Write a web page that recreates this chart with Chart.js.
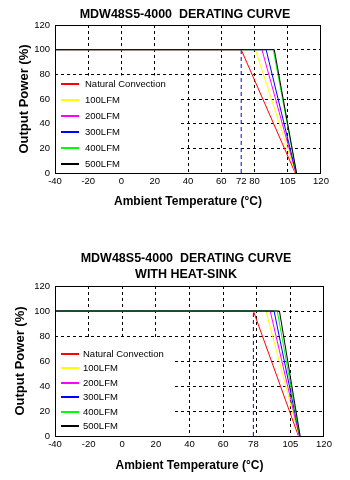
<!DOCTYPE html>
<html><head><meta charset="utf-8">
<script src="https://cdn.jsdelivr.net/npm/chart.js@4"></script>
<style>
html,body{margin:0;padding:0;background:#fff;width:350px;height:480px;overflow:hidden}
canvas{position:absolute;left:0}
</style></head>
<body>
<canvas id="c1" width="350" height="216" style="top:0"></canvas>
<canvas id="c2" width="350" height="240" style="top:240px"></canvas>
<script>
// ---- data ----
const seriesNames = ['Natural Convection', '100LFM', '200LFM', '300LFM', '400LFM', '500LFM'];
const ratedPower = 100;
const startTemp = -40;

// chart 1 (no heat-sink)
const topKnee = [72, 80.5, 84.5, 87, 91.3, 91.9];
const topZero = [104.5, 104.7, 104.9, 105, 105.2, 105.3];
const topLimit = 72;
const topTickValues = [-40, -20, 0, 20, 40, 60, 72, 80, 100, 120];
const topTickLabels = ['-40', '-20', '0', '20', '40', '60', '72', '80', '105', '120'];

// chart 2 (with heat-sink)
const botKnee = [78, 85.5, 88, 90.3, 92.2, 93.5];
const botZero = [104.8, 105.1, 105.3, 105.5, 105.6, 105.8];
const botLimit = 78;
const botTickValues = [-40, -20, 0, 20, 40, 60, 78, 80, 100, 120];
const botTickLabels = ['-40', '-20', '0', '20', '40', '60', '78', '', '105', '120'];

const yTickValues = [0, 20, 40, 60, 80, 100, 120];

// ---- styles ----
const seriesColors = ['#ff0000', '#ffff00', '#ff00ff', '#0000ff', '#00ff00', '#000000'];
const FONT = "'Liberation Sans', Arial, Helvetica, sans-serif";
Chart.defaults.color = '#000';
Chart.defaults.font.family = FONT;

const framePlugin = {
  id: 'frame',
  afterDraw(chart) {
    const {ctx, chartArea: a} = chart;
    ctx.save();
    ctx.strokeStyle = '#000';
    ctx.lineWidth = 1;
    ctx.setLineDash([]);
    ctx.strokeRect(Math.round(a.left) + 0.5, Math.round(a.top) + 0.5,
      Math.round(a.right - a.left) - 1 + 0, Math.round(a.bottom - a.top));
    ctx.restore();
  }
};

const boxLegendPlugin = {
  id: 'boxLegend',
  beforeDatasetsDraw(chart, args, opts) {
    const {ctx, chartArea: a, scales} = chart;
    const right = scales.x.getPixelForValue(opts.boxRightValue);
    const top = scales.y.getPixelForValue(opts.boxTopValue);
    ctx.save();
    ctx.fillStyle = '#fff';
    ctx.fillRect(a.left + 1, top, right - a.left - 1, a.bottom - top - 0.5);
    const items = chart.data.datasets.filter(d => d.inLegend);
    ctx.font = opts.font;
    ctx.textBaseline = 'middle';
    ctx.textAlign = 'left';
    const n = items.length;
    items.forEach((d, i) => {
      const yy = Math.round(a.bottom - opts.bottomGap - (n - 1 - i) * opts.rowGap);
      ctx.strokeStyle = d.borderColor;
      ctx.lineWidth = 2;
      ctx.setLineDash([]);
      ctx.beginPath();
      ctx.moveTo(a.left + opts.sampleStart, yy);
      ctx.lineTo(a.left + opts.sampleStart + opts.sampleLen, yy);
      ctx.stroke();
      ctx.fillStyle = '#000';
      ctx.fillText(d.label, a.left + opts.textX, yy + 0.5);
    });
    ctx.restore();
  }
};

function buildDatasets(knees, zeros, limit) {
  const ds = seriesNames.map((name, i) => ({
    label: name,
    inLegend: true,
    data: [{x: startTemp, y: ratedPower}, {x: knees[i], y: ratedPower}, {x: zeros[i], y: 0}],
    borderColor: seriesColors[i],
    borderWidth: 1,
    pointRadius: 0,
    fill: false,
    tension: 0,
    order: seriesNames.length - 1 - i
  }));
  ds.push({
    label: 'limit',
    inLegend: false,
    data: [{x: limit, y: 0}, {x: limit, y: ratedPower}],
    borderColor: '#0000ff',
    borderWidth: 1,
    borderDash: [4, 3],
    pointRadius: 0,
    fill: false,
    order: 10
  });
  return ds;
}

function makeChart(id, o) {
  const hidden = [-40, 120, o.limit];
  return new Chart(document.getElementById(id), {
    type: 'line',
    data: {datasets: buildDatasets(o.knees, o.zeros, o.limit)},
    options: {
      responsive: false,
      animation: false,
      events: [],
      layout: {padding: {left: o.padLeft, right: 0, top: 0, bottom: 0}},
      plugins: {
        legend: {display: false},
        tooltip: {enabled: false},
        title: {
          display: true,
          text: o.title,
          color: '#000',
          font: {family: FONT, size: 12.5, weight: 'bold', lineHeight: '16px'},
          padding: o.titlePad
        },
        boxLegend: o.legend
      },
      scales: {
        x: {
          type: 'linear',
          min: -40, max: 120,
          afterBuildTicks: s => { s.ticks = o.tickValues.map(v => ({value: v})); },
          afterFit: s => { s.height = o.xHeight; },
          ticks: {
            autoSkip: false, maxRotation: 0, padding: 3,
            font: {family: FONT, size: 9.5},
            color: '#000',
            callback: (v, i) => o.tickLabels[i]
          },
          grid: {
            drawTicks: false,
            lineWidth: 1,
            color: c => (c.tick && hidden.includes(c.tick.value)) ? 'rgba(0,0,0,0)' : '#000'
          },
          border: {display: false, dash: [3, 3]},
          title: {
            display: true, text: 'Ambient Temperature (°C)', color: '#000',
            font: {family: FONT, size: 12, weight: 'bold'},
            padding: {top: 0, bottom: o.xTitlePad}
          }
        },
        y: {
          type: 'linear',
          min: 0, max: 120,
          afterBuildTicks: s => { s.ticks = yTickValues.map(v => ({value: v})); },
          afterFit: s => { s.width = 55 - o.padLeft; },
          ticks: {padding: 5, font: {family: FONT, size: 9.5}, color: '#000'},
          grid: {
            drawTicks: false,
            lineWidth: 1,
            color: c => (c.tick && (c.tick.value === 0 || c.tick.value === 120)) ? 'rgba(0,0,0,0)' : '#000'
          },
          border: {display: false, dash: [3, 3]},
          title: {
            display: true, text: 'Output Power (%)', color: '#000',
            font: {family: FONT, size: 13, weight: 'bold'},
            padding: {top: o.yTitlePad, bottom: 0}
          }
        },
        y2: {
          type: 'linear', position: 'right', min: 0, max: 120,
          display: true,
          afterFit: s => { s.width = o.rightGap; },
          ticks: {display: false},
          grid: {display: false},
          border: {display: false}
        }
      }
    },
    plugins: [boxLegendPlugin, framePlugin]
  });
}

makeChart('c1', {
  knees: topKnee, zeros: topZero, limit: topLimit,
  tickValues: topTickValues, tickLabels: topTickLabels,
  title: 'MDW48S5-4000  DERATING CURVE',
  titlePad: {top: 6.4, bottom: 2.6},
  padLeft: 20, yTitlePad: -3.5, xHeight: 43, xTitlePad: 7, rightGap: 29,
  legend: {boxRightValue: 35.8, boxTopValue: 79, bottomGap: 9, rowGap: 16,
           sampleStart: 6, sampleLen: 18, textX: 30, font: '9.5px ' + FONT}
});

makeChart('c2', {
  knees: botKnee, zeros: botZero, limit: botLimit,
  tickValues: botTickValues, tickLabels: botTickLabels,
  title: ['MDW48S5-4000  DERATING CURVE', 'WITH HEAT-SINK'],
  titlePad: {top: 11, bottom: 3},
  padLeft: 22, yTitlePad: -9.1, xHeight: 44, xTitlePad: 7, rightGap: 26,
  legend: {boxRightValue: 31.4, boxTopValue: 79, bottomGap: 10, rowGap: 14.5,
           sampleStart: 6, sampleLen: 18, textX: 28, font: '9.5px ' + FONT}
});
</script>
</body></html>
